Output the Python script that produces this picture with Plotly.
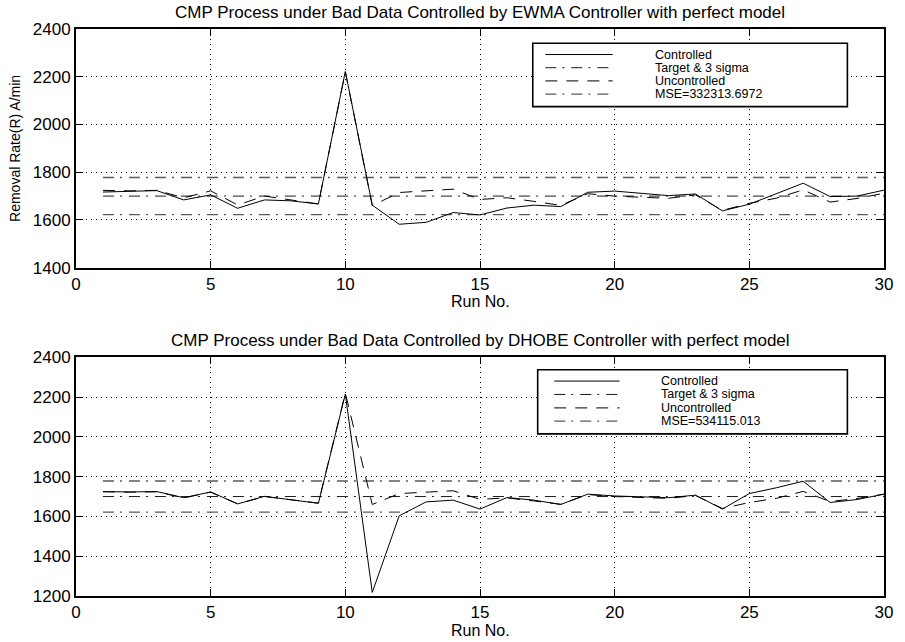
import plotly.graph_objects as go

# ---- data -------------------------------------------------------------
runs = list(range(1, 31))

uncontrolled = [1724, 1722, 1724, 1693, 1722, 1663, 1700, 1685, 1667, 2220,
                1660, 1715, 1721, 1729, 1686, 1693, 1678, 1661, 1710, 1700,
                1695, 1691, 1705, 1640, 1670, 1691, 1726, 1675, 1690, 1712]

ewma_controlled = [1717, 1719, 1723, 1684, 1705, 1649, 1684, 1680, 1667, 2222,
                   1662, 1582, 1590, 1631, 1621, 1650, 1662, 1656, 1716, 1721,
                   1712, 1702, 1709, 1638, 1666, 1709, 1754, 1698, 1700, 1725]

dhobe_controlled = [1725, 1723, 1725, 1694, 1723, 1663, 1701, 1685, 1666, 2215,
                    1218, 1603, 1673, 1682, 1637, 1695, 1682, 1660, 1712, 1703,
                    1699, 1694, 1707, 1637, 1715, 1744, 1777, 1670, 1685, 1712]

target = 1700
three_sigma = 78

titles = ["CMP Process under Bad Data Controlled by EWMA Controller with perfect model",
          "CMP Process under Bad Data Controlled by DHOBE Controller with perfect model"]
mse_labels = ["MSE=332313.6972", "MSE=534115.013"]
legend_labels = ["Controlled", "Target & 3 sigma", "Uncontrolled"]

xticks = [0, 5, 10, 15, 20, 25, 30]
yticks_top = [1400, 1600, 1800, 2000, 2200, 2400]
yticks_bottom = [1200, 1400, 1600, 1800, 2000, 2200, 2400]

# ---- styling ----------------------------------------------------------
FONT = "Liberation Sans, Arial, Helvetica, sans-serif"
DASHDOT = "11px,6px,2px,7px"
DASHED = "12px,9px"
LIMIT_COLOR = "#5a5a5a"

W, H = 905, 642
ML, MR, MT, MB = 76, 13, 29, 46
plot_h = H - MT - MB

top_domain = [0.579, 1.0]
bottom_domain = [0.0, 0.421]

fig = go.Figure()

panels = [
    ("x", "y", ewma_controlled),
    ("x2", "y2", dhobe_controlled),
]

for xa, ya, controlled in panels:
    n = len(runs)
    fig.add_trace(go.Scatter(x=runs, y=[target + three_sigma] * n, mode="lines",
                             line=dict(color=LIMIT_COLOR, width=1.3, dash=DASHDOT),
                             xaxis=xa, yaxis=ya, showlegend=False, hoverinfo="skip"))
    fig.add_trace(go.Scatter(x=runs, y=[target - three_sigma] * n, mode="lines",
                             line=dict(color=LIMIT_COLOR, width=1.3, dash=DASHDOT),
                             xaxis=xa, yaxis=ya, showlegend=False, hoverinfo="skip"))
    fig.add_trace(go.Scatter(x=runs, y=[target] * n, mode="lines",
                             line=dict(color="#1a1a1a", width=1, dash=DASHDOT),
                             xaxis=xa, yaxis=ya, showlegend=False))
    fig.add_trace(go.Scatter(x=runs, y=uncontrolled, mode="lines",
                             line=dict(color="black", width=1, dash=DASHED),
                             xaxis=xa, yaxis=ya, showlegend=False))
    fig.add_trace(go.Scatter(x=runs, y=controlled, mode="lines",
                             line=dict(color="black", width=1),
                             xaxis=xa, yaxis=ya, showlegend=False))

axis_common = dict(
    showline=True, linecolor="black", linewidth=1.8, mirror="ticks",
    ticks="inside", ticklen=7, tickwidth=1, tickcolor="black",
    showgrid=True, gridcolor="black", griddash="1px,4px", gridwidth=1,
    zeroline=False,
    tickfont=dict(family=FONT, size=17, color="black"),
)

fig.update_layout(
    xaxis=dict(axis_common, domain=[0, 1], range=[0, 30], tickvals=xticks, anchor="y"),
    yaxis=dict(axis_common, domain=top_domain, range=[1400, 2400], tickvals=yticks_top, anchor="x"),
    xaxis2=dict(axis_common, domain=[0, 1], range=[0, 30], tickvals=xticks, anchor="y2"),
    yaxis2=dict(axis_common, domain=bottom_domain, range=[1200, 2400], tickvals=yticks_bottom, anchor="x2"),
)


def py_to_paper(py):
    return (H - MB - py) / plot_h


annotations = []
shapes = []

# titles, x-axis titles, y-axis title
title_rows = [12.0, 340.0]
xlabel_rows = [300.5, 629.5]
for t, ty, ly in zip(titles, title_rows, xlabel_rows):
    annotations.append(dict(text=t, x=0.5, y=py_to_paper(ty), xref="paper", yref="paper",
                            xanchor="center", yanchor="middle", showarrow=False,
                            font=dict(family=FONT, size=17, color="black")))
    annotations.append(dict(text="Run No.", x=0.5, y=py_to_paper(ly), xref="paper", yref="paper",
                            xanchor="center", yanchor="middle", showarrow=False, height=16,
                            font=dict(family=FONT, size=16, color="black")))

annotations.append(dict(text="Removal Rate(R) A/min", x=(15 - ML) / (W - ML - MR),
                        y=(top_domain[0] + top_domain[1]) / 2, xref="paper", yref="paper",
                        xanchor="center", yanchor="middle", textangle=-90, showarrow=False,
                        font=dict(family=FONT, size=14, color="black")))

# legend boxes drawn inside each axes (fractions of the axes domain)
legend_boxes = [
    # xref, yref, box x0, x1, y_top, y_bottom, sample x0, x1, text x, mse label
    ("x domain", "y domain", 0.5653, 0.9547, 0.940, 0.675, 0.5809, 0.6642, 0.7157, mse_labels[0]),
    ("x2 domain", "y2 domain", 0.5714, 0.9547, 0.948, 0.679, 0.5919, 0.6728, 0.7227, mse_labels[1]),
]
sample_styles = [
    dict(color="black", width=1),
    dict(color="#1a1a1a", width=1, dash=DASHDOT),
    dict(color="#333333", width=1.2, dash=DASHED),
    dict(color=LIMIT_COLOR, width=1.3, dash=DASHDOT),
]

for xr, yr, bx0, bx1, bt, bb, sx0, sx1, tx, mse in legend_boxes:
    shapes.append(dict(type="rect", xref=xr, yref=yr, x0=bx0, x1=bx1, y0=bb, y1=bt,
                       line=dict(color="black", width=1.6), fillcolor="white", layer="above"))
    labels = legend_labels + [mse]
    step = (bt - bb) / (len(labels) + 0.8)
    for i, (lab, sty) in enumerate(zip(labels, sample_styles)):
        yy = bt - step * (i + 0.85)
        shapes.append(dict(type="line", xref=xr, yref=yr, x0=sx0, x1=sx1, y0=yy, y1=yy,
                           line=sty, layer="above"))
        annotations.append(dict(text=lab, xref=xr, yref=yr, x=tx, y=yy,
                                xanchor="left", yanchor="middle", showarrow=False,
                                borderpad=0,
                                font=dict(family=FONT, size=12.5, color="black")))

fig.update_layout(
    width=W, height=H,
    margin=dict(l=ML, r=MR, t=MT, b=MB),
    paper_bgcolor="white", plot_bgcolor="white",
    showlegend=False,
    annotations=annotations,
    shapes=shapes,
)

fig.write_html("out.html")
